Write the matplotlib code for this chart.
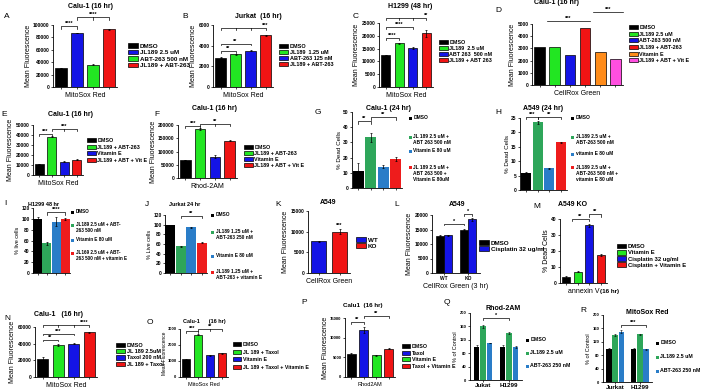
import matplotlib
matplotlib.use("Agg")
import matplotlib.pyplot as plt
import matplotlib.patches as mpatches
import numpy as np

plt.rcParams['font.family'] = ['Liberation Sans', 'DejaVu Sans']
plt.rcParams['font.weight'] = 'bold'
plt.rcParams['axes.linewidth'] = 0.6

W, H = 720, 389

# ---- data ----
A_labels = ['DMSO', 'JL189 2.5 uM', 'ABT-263 500 nM', 'JL189 + ABT-263']
A_vals = [30500, 87000, 36000, 93000]
A_err = [400, 700, 400, 900]

B_labels = ['DMSO', 'JL189  1.25 uM', 'ABT-263 125 nM', 'JL189 + ABT-263']
B_vals = [2850, 3150, 3500, 5000]
B_err = [30, 50, 40, 70]

C_labels = ['DMSO', 'JL189  2.5 uM', 'ABT 263  500 nM', 'JL189 + ABT 263']
C_vals = [12500, 17000, 15200, 21000]
C_err = [150, 250, 250, 1300]

D_labels = ['DMSO', 'JL189 2.5 uM', 'ABT-263 500 nM', 'JL189 + ABT-263', 'Vitamin E', 'JL189 + ABT + Vit E']
D_vals = [3080, 3080, 2450, 4680, 2700, 2150]

E_labels = ['DMSO', 'JL189 + ABT-263', 'Vitamin E', 'JL189 + ABT + Vit E']
E_vals = [11000, 38500, 13500, 15500]
E_err = [300, 500, 300, 300]

F_labels = ['DMSO', 'JL189 + ABT-263', 'Vitamin E', 'JL189 + ABT + Vit E']
F_vals = [68000, 185000, 80000, 140000]
F_err = [1500, 2000, 6000, 2000]

G_labels = ['DMSO', 'JL 189 2.5 uM +\nABT 263 500 nM', 'Vitamin E 80 uM',
            'JL 189 2.5 uM +\nABT 263 500 +\nVitamin E 80uM']
G_vals = [11, 33.5, 14, 19]
G_err = [5.5, 3, 1, 1.5]

H_labels = ['DMSO', 'JL189 2.5 uM +\nABT-263 500 nM', 'vitamin E 80 uM',
            'JL189 2.5 uM +\nABT-263 500 nM +\nvitamin E 80 uM']
H_vals = [6, 23.5, 7.6, 16.5]
H_err = [0.3, 0.5, 0.2, 0.3]

I_labels = ['DMSO', 'JL189 2.5 uM + ABT-\n263 500 nM', 'Vitamin E 80 uM',
            'JL169 2.5 uM + ABT-\n263 500 nM + vitamin E']
I_vals = [100, 55, 95, 100]
I_err = [4, 3, 8, 2]

J_labels = ['DMSO', 'JL189 1.25 uM +\nABT-263 250 nM', 'Vitamin E 80 uM',
            'JL189 1.25 uM +\nABT-263 + vitamin E']
J_vals = [100, 55, 95, 63]
J_err = [0, 1, 1, 1.5]

K_labels = ['WT', 'KO']
K_vals = [7700, 10000]
K_err = [100, 600]

L_groups = ['WT', 'KO']
L_labels = ['DMSO', 'Cisplatin 32 ug/ml']
L_dmso = [12800, 15000]
L_cis = [13000, 18500]
L_dmso_err = [150, 300]
L_cis_err = [150, 400]

M_labels = ['DMSO', 'Vitamin E', 'Cisplatin 32 ug/ml', 'Cisplatin + Vitamin E']
M_vals = [3.5, 7, 36, 17.5]
M_err = [1, 0.3, 1, 0.5]

N_labels = ['DMSO', 'JL 189 2.5uM', 'Taxol 200 nM', 'JL 189 + Taxol']
N_vals = [22000, 39000, 40000, 54000]
N_err = [2500, 1200, 300, 600]

O_labels = ['DMSO', 'JL 189 + Taxol', 'Vitamin E', 'JL 189 + Taxol + Vitamin E']
O_vals = [1100, 2650, 1350, 1480]
O_err = [20, 40, 10, 20]

P_labels = ['DMSO', 'Taxol', 'Vitamin E', 'Taxol + Vitamin E']
P_vals = [5800, 12000, 5500, 7200]
P_err = [300, 700, 150, 150]

Q_groups = ['Jukat', 'H1299']
Q_labels = ['DMSO', 'JL189 2.5 uM', 'ABT-263 250 nM']
Q_vals = [[100, 160, 110], [100, 140, 98]]
Q_err = [[5, 4, 1], [3, 3, 3]]

R_groups = ['Jurkat', 'H1299']
R_labels = ['DMSO', 'JL189 2.5 uM', 'ABT-263 250 nM']
R_vals = [[100, 140, 150], [100, 142, 98]]
R_err = [[2, 3, 4], [2, 2, 1]]

# colours
K_ = '#000000'
GP_BLUE = '#1414e6'
GP_GREEN = '#22e622'
GP_RED = '#f01414'
XL_GREEN = '#2ea65a'
XL_BLUE = '#2a7dc8'
XL_RED = '#ee1c1c'

fig = plt.figure(figsize=(W / 100, H / 100), dpi=100)


def add_ax(l, t, r, b):
    return fig.add_axes([l / W, 1 - b / H, (r - l) / W, (b - t) / H])


def ftext(x, y, s, **kw):
    kw.setdefault('fontsize', 5)
    kw.setdefault('ha', 'center')
    kw.setdefault('va', 'center')
    fig.text(x / W, 1 - y / H, s, **kw)


def style(ax, ylim, step, fs=3.5):
    ax.set_ylim(*ylim)
    ax.set_yticks(np.arange(ylim[0], ylim[1] + step / 2, step))
    ax.spines['top'].set_visible(False)
    ax.spines['right'].set_visible(False)
    ax.tick_params(axis='y', labelsize=fs, length=1.5, width=0.5, pad=1)
    ax.tick_params(axis='x', labelsize=fs, length=1.5, width=0.5, pad=1)
    for lab in ax.get_yticklabels():
        lab.set_fontweight('bold')


def bars(ax, vals, colors, err=None, width=0.7, ec='k'):
    x = np.arange(len(vals))
    ax.bar(x, vals, width=width, color=colors, edgecolor=ec, linewidth=0.5,
           yerr=err, error_kw=dict(elinewidth=0.5, capsize=1, capthick=0.5, ecolor='k'))
    ax.set_xlim(-0.5, len(vals) - 0.5)
    ax.set_xticks(x)
    ax.set_xticklabels([])
    return x


def legend(ax, labels, colors, x, y, fs=4.5, spacing=0.15):
    hs = [mpatches.Patch(facecolor=c, edgecolor='k', linewidth=0.5) for c in colors]
    ax.legend(hs, labels, loc='upper left', bbox_to_anchor=(x / W, 1 - y / H),
              bbox_transform=fig.transFigure, frameon=False, fontsize=fs,
              handlelength=1.6, handleheight=0.8,
              handletextpad=0.3, labelspacing=spacing, borderpad=0, borderaxespad=0)


def xl_legend(labels, colors, x, ys, fs=3.5):
    # excel-style legend: small square then text, one entry per y (centre of first line)
    for lab, c, y in zip(labels, colors, ys):
        fig.patches.append(mpatches.Rectangle((x / W, 1 - (y + 1.5) / H), 3 / W, 3 / H,
                                              transform=fig.transFigure, facecolor=c,
                                              edgecolor='none'))
        fig.text((x + 4.5) / W, 1 - (y - 2.6) / H, lab, fontsize=fs, va='top', ha='left',
                 linespacing=1.15)


def bracket(ax, x1, x2, y, h, txt, mids=(), fs=4, tx=None):
    ax.plot([x1, x1, x2, x2], [y - h, y, y, y - h], color='k', lw=0.5, clip_on=False)
    for m in mids:
        ax.plot([m, m], [y, y - h], color='k', lw=0.5, clip_on=False)
    if tx is None:
        tx = (x1 + x2) / 2
    ax.text(tx, y, txt, ha='center', va='bottom', fontsize=fs, clip_on=False)


def hline(ax, x1, x2, y, txt, fs=4):
    ax.plot([x1, x2], [y, y], color='k', lw=0.5, clip_on=False)
    ax.text((x1 + x2) / 2, y, txt, ha='center', va='bottom', fontsize=fs, clip_on=False)


gp4 = [K_, GP_BLUE, GP_GREEN, GP_RED]

# ---- A ----
ax = add_ax(53, 25, 117, 87)
bars(ax, A_vals, gp4, A_err)
style(ax, (0, 100000), 20000)
ax.set_xlabel('MitoSox Red', fontsize=5, labelpad=1)
ax.set_ylabel('Mean Fluorescence', fontsize=5, labelpad=1)
bracket(ax, 0, 1, 98000, 5000, '****')
bracket(ax, 1, 3, 113000, 5000, '****', mids=[2])
ftext(90, 7, 'Calu-1 (16 hr)', fontsize=5)
ftext(7, 17, 'A', fontsize=6, fontweight='normal')
legend(ax, A_labels, gp4, 128, 43)

# ---- B ----
b4 = [K_, GP_GREEN, GP_BLUE, GP_RED]
ax = add_ax(213, 25, 273, 87)
bars(ax, B_vals, b4, B_err)
style(ax, (0, 6000), 2000)
ax.set_xlabel('MitoSox Red', fontsize=5, labelpad=1)
ax.set_ylabel('Mean Fluorescence', fontsize=5, labelpad=1)
bracket(ax, 0, 1, 3450, 150, '**')
bracket(ax, 0, 2, 4200, 150, '**')
bracket(ax, 0, 3, 5700, 200, '***', mids=[1, 2], tx=3)
ftext(258, 17, 'Jurkat  (16 hr)', fontsize=5)
ftext(185, 17, 'B', fontsize=6, fontweight='normal')
legend(ax, B_labels, b4, 279, 44, fs=4)

# ---- C ----
ax = add_ax(379, 23, 433, 87)
bars(ax, C_vals, b4, C_err)
style(ax, (0, 25000), 5000)
ax.set_xlabel('MitoSox Red', fontsize=5, labelpad=1)
ax.set_ylabel('Mean Fluorescence', fontsize=5, labelpad=1)
bracket(ax, 0, 1, 19000, 800, '****')
bracket(ax, 0, 2, 23500, 800, '****')
bracket(ax, 0, 3, 27000, 800, '**', mids=[1, 2], tx=3)
ftext(410, 6, 'H1299 (48 hr)', fontsize=5)
ftext(356, 17, 'C', fontsize=6, fontweight='normal')
legend(ax, C_labels, b4, 439, 39.5, fs=3.9, spacing=0.2)

# ---- D ----
d6 = [K_, GP_GREEN, GP_BLUE, GP_RED, '#ff8c1a', '#ff4fe0']
ax = add_ax(532, 24, 623, 85)
bars(ax, D_vals, d6)
style(ax, (0, 5000), 1000)
ax.set_xlabel('CellRox Green', fontsize=5, labelpad=1)
ax.set_ylabel('Mean Fluorescence', fontsize=5, labelpad=1)
hline(ax, 0.5, 3.3, 5250, '***')
hline(ax, 3.5, 5.5, 5950, '***')
ftext(557, 3, 'Calu-1 (16 hr)', fontsize=5)
ftext(498, 10, 'D', fontsize=6, fontweight='normal')
legend(ax, D_labels, d6, 629, 25, fs=3.9, spacing=0.3)

# ---- E ----
e4 = [K_, GP_GREEN, GP_BLUE, GP_RED]
ax = add_ax(33, 125, 83, 175)
bars(ax, E_vals, e4, E_err)
style(ax, (0, 50000), 10000)
ax.set_xlabel('MitoSox Red', fontsize=5, labelpad=1)
ax.set_ylabel('Mean Fluorescence', fontsize=5, labelpad=1)
bracket(ax, 0, 1, 41000, 1500, '***')
bracket(ax, 1, 3, 46000, 1500, '***', mids=[2])
ftext(70, 114, 'Calu-1 (16 hr)', fontsize=5)
ftext(4, 114, 'E', fontsize=6, fontweight='normal')
legend(ax, E_labels, e4, 87, 138, fs=3.9, spacing=0.3)

# ---- F ----
ax = add_ax(178, 125, 237, 178)
bars(ax, F_vals, e4, F_err)
style(ax, (0, 200000), 50000)
ax.set_xlabel('Rhod-2AM', fontsize=5, labelpad=1)
ax.set_ylabel('Mean Fluorescence', fontsize=5, labelpad=1)
bracket(ax, 0, 1, 195000, 6000, '***')
bracket(ax, 1, 3, 203000, 6000, '**', mids=[2])
ftext(215, 108, 'Calu-1 (16 hr)', fontsize=5)
ftext(157, 114, 'F', fontsize=6, fontweight='normal')
legend(ax, F_labels, e4, 244, 145, fs=3.9, spacing=0.2)

# ---- G ----
xl4 = [K_, XL_GREEN, XL_BLUE, XL_RED]
ax = add_ax(352, 112, 402, 188)
bars(ax, G_vals, xl4, G_err, width=0.85, ec='none')
style(ax, (0, 50), 10)
ax.set_ylabel('% Dead Cells', fontsize=4.5, labelpad=1)
bracket(ax, 0, 1, 44, 2, '**')
bracket(ax, 1, 3, 47, 2, '**')
ftext(388, 108, 'Calu-1 (24 hr)', fontsize=5)
ftext(318, 113, 'G', fontsize=6, fontweight='normal')
xl_legend(G_labels, xl4, 409, [118, 137, 151, 168])

# ---- H ----
ax = add_ax(520, 118, 567, 190)
bars(ax, H_vals, xl4, H_err, width=0.85, ec='none')
style(ax, (0, 25), 5)
ax.set_ylabel('% Dead Cells', fontsize=4.5, labelpad=1)
bracket(ax, 0, 1, 25.5, 0.8, '***')
bracket(ax, 1, 3, 25.5, 0.8, '**')
ftext(543, 108, 'A549 (24 hr)', fontsize=5)
ftext(498, 113, 'H', fontsize=6, fontweight='normal')
xl_legend(H_labels, xl4, 571, [118, 137, 154, 168])

# ---- I ----
ax = add_ax(33, 208, 70, 273)
bars(ax, I_vals, xl4, I_err, width=0.95, ec='none')
style(ax, (0, 120), 20)
ax.set_ylabel('% live cells', fontsize=4, labelpad=1)
bracket(ax, 1, 3, 112, 4, '****')
ftext(43, 204, 'H1299 48 hr', fontsize=4)
ftext(5, 203, 'I', fontsize=6, fontweight='normal')
xl_legend(I_labels, xl4, 71, [212, 225, 240, 253], fs=3.3)

# ---- J ----
ax = add_ax(165, 215, 207, 273)
bars(ax, J_vals, xl4, J_err, width=0.95, ec='none')
style(ax, (0, 120), 20)
ax.set_ylabel('% Live cells', fontsize=4, labelpad=1)
bracket(ax, 1, 3, 118, 4, '**')
ftext(185, 204, 'Jurkat 24 hr', fontsize=4)
ftext(147, 204, 'J', fontsize=6, fontweight='normal')
xl_legend(J_labels, xl4, 211, [215, 232, 256, 272], fs=3.4)

# ---- K ----
ax = add_ax(308, 211, 350, 273)
bars(ax, K_vals, [GP_BLUE, GP_RED], K_err, width=0.75)
style(ax, (0, 15000), 5000)
ax.set_xlabel('CellRox Green', fontsize=5, labelpad=1)
ax.set_ylabel('Mean Fluorescence', fontsize=5, labelpad=1)
ax.text(1, 10900, '***', ha='center', va='bottom', fontsize=4)
ftext(328, 202, 'A549', fontsize=5)
ftext(278, 205, 'K', fontsize=6, fontweight='normal')
legend(ax, K_labels, [GP_BLUE, GP_RED], 356, 237, spacing=0.1)

# ---- L ----
ax = add_ax(432, 215, 480, 273)
gx = np.arange(len(L_groups))
bw = 0.35
ax.bar(gx - bw / 2, L_dmso, bw * 0.9, color=K_, edgecolor='k', lw=0.5, yerr=L_dmso_err,
       error_kw=dict(elinewidth=0.5, capsize=1, capthick=0.5))
ax.bar(gx + bw / 2, L_cis, bw * 0.9, color=GP_BLUE, edgecolor='k', lw=0.5, yerr=L_cis_err,
       error_kw=dict(elinewidth=0.5, capsize=1, capthick=0.5))
ax.set_xlim(-0.5, 1.5)
ax.set_xticks(gx)
ax.set_xticklabels(L_groups)
style(ax, (0, 20000), 5000)
ax.set_xlabel('CellRox Green (3 hr)', fontsize=5, labelpad=1)
ax.set_ylabel('Mean Fluorescence', fontsize=5, labelpad=1)
bracket(ax, 0, 1 - bw / 2, 17000, 600, '*')
bracket(ax, 1 - bw / 2, 1 + bw / 2, 20300, 600, '*')
ftext(457, 205, 'A549', fontsize=5)
ftext(397, 205, 'L', fontsize=6, fontweight='normal')
legend(ax, L_labels, [K_, GP_BLUE], 479, 240, spacing=0.1)

# ---- M ----
m4 = [K_, GP_GREEN, GP_BLUE, GP_RED]
ax = add_ax(560, 219, 607, 283)
bars(ax, M_vals, m4, M_err)
style(ax, (0, 40), 10)
ax.set_xlabel('annexin V', fontsize=5, labelpad=1)
ax.set_ylabel('% Dead Cells', fontsize=5, labelpad=1)
bracket(ax, 0.5, 2, 40, 1.5, '**')
bracket(ax, 2, 3, 43, 1.5, '**')
ftext(573, 205, 'A549 KO', fontsize=5)
ftext(610, 291, '(16 hr)', fontsize=4.5)
ftext(537, 206, 'M', fontsize=6, fontweight='normal')
legend(ax, M_labels, m4, 617, 244, fs=4.2)

# ---- N ----
ax = add_ax(35, 327, 97, 377)
bars(ax, N_vals, m4, N_err)
style(ax, (0, 60000), 20000)
ax.set_xlabel('MitoSox Red', fontsize=5, labelpad=1)
ax.set_ylabel('Mean Fluorescence', fontsize=5, labelpad=1)
bracket(ax, 0, 1, 45000, 2000, '**')
bracket(ax, 0, 2, 52000, 2000, '***')
bracket(ax, 0, 3, 62000, 2000, '****', mids=[1, 2], tx=2.7)
ftext(58, 314, 'Calu-1   (16 hr)', fontsize=5)
ftext(7, 318, 'N', fontsize=6, fontweight='normal')
legend(ax, N_labels, m4, 116, 343, fs=4, spacing=0.2)

# ---- O ----
o4 = [K_, GP_GREEN, GP_BLUE, GP_RED]
ax = add_ax(180, 329, 228, 377)
bars(ax, O_vals, o4, O_err)
style(ax, (0, 3000), 1000, fs=3)
ax.set_xlabel('MitoSox Red', fontsize=4, labelpad=1)
ax.set_ylabel('Mean Fluorescence', fontsize=3.5, labelpad=0.5)
bracket(ax, 0, 1, 2850, 100, '***')
bracket(ax, 1, 3, 3000, 100, '**', mids=[2])
ftext(204, 322, 'Calu-1      (16 hr)', fontsize=4)
ftext(150, 323, 'O', fontsize=6, fontweight='normal')
legend(ax, O_labels, o4, 233, 342, fs=3.8, spacing=0.5)

# ---- P ----
p4 = [K_, GP_BLUE, GP_GREEN, GP_RED]
ax = add_ax(345, 318, 395, 377)
bars(ax, P_vals, p4, P_err)
style(ax, (0, 15000), 5000, fs=3)
ax.set_xlabel('Rhod2AM', fontsize=4, labelpad=1)
ax.set_ylabel('Mean Fluorescence', fontsize=5, labelpad=1)
bracket(ax, 0, 1, 14000, 500, '**')
bracket(ax, 1, 3, 15500, 500, '**')
ftext(363, 305, 'Calu1  (16 hr)', fontsize=4.5)
ftext(304, 303, 'P', fontsize=6, fontweight='normal')
legend(ax, P_labels, p4, 402, 344, fs=3.8, spacing=0.3)


def grouped(ax, groups, vals, errs, colors):
    n = len(vals[0])
    bw = 0.25
    gx = np.arange(len(groups))
    for i in range(n):
        ax.bar(gx + (i - 1) * bw, [v[i] for v in vals], bw * 0.9, color=colors[i],
               yerr=[e[i] for e in errs],
               error_kw=dict(elinewidth=0.4, capsize=0.8, capthick=0.4, ecolor='k'))
    ax.set_xlim(-0.5, len(groups) - 0.5)
    ax.set_xticks(gx)
    ax.set_xticklabels(groups)
    return gx


xl3 = [K_, XL_GREEN, XL_BLUE]

# ---- Q ----
ax = add_ax(470, 313, 522, 380)
gx = grouped(ax, Q_groups, Q_vals, Q_err, xl3)
style(ax, (0, 200), 40, fs=3)
ax.tick_params(axis='x', labelsize=4.5)
ax.set_ylabel('% of Control', fontsize=4, labelpad=1)
bracket(ax, 0, 1, 184, 5, '*')
ftext(503, 308, 'Rhod-2AM', fontsize=5)
ftext(447, 303, 'Q', fontsize=6, fontweight='normal')
xl_legend(Q_labels, xl3, 526, [340, 353, 366], fs=3.8)

# ---- R ----
ax = add_ax(603, 315, 652, 382)
gx = grouped(ax, R_groups, R_vals, R_err, xl3)
style(ax, (0, 200), 40, fs=3)
ax.tick_params(axis='x', labelsize=4.5)
ax.set_ylabel('% of Control', fontsize=4, labelpad=1)
bracket(ax, 0.25, 1.25, 170, 5, '***')
ftext(647, 312, 'MitoSox Red', fontsize=5)
ftext(583, 310, 'R', fontsize=6, fontweight='normal')
xl_legend(R_labels, xl3, 656, [343, 357, 371], fs=3.8)

fig.savefig('out.png', dpi=100)
